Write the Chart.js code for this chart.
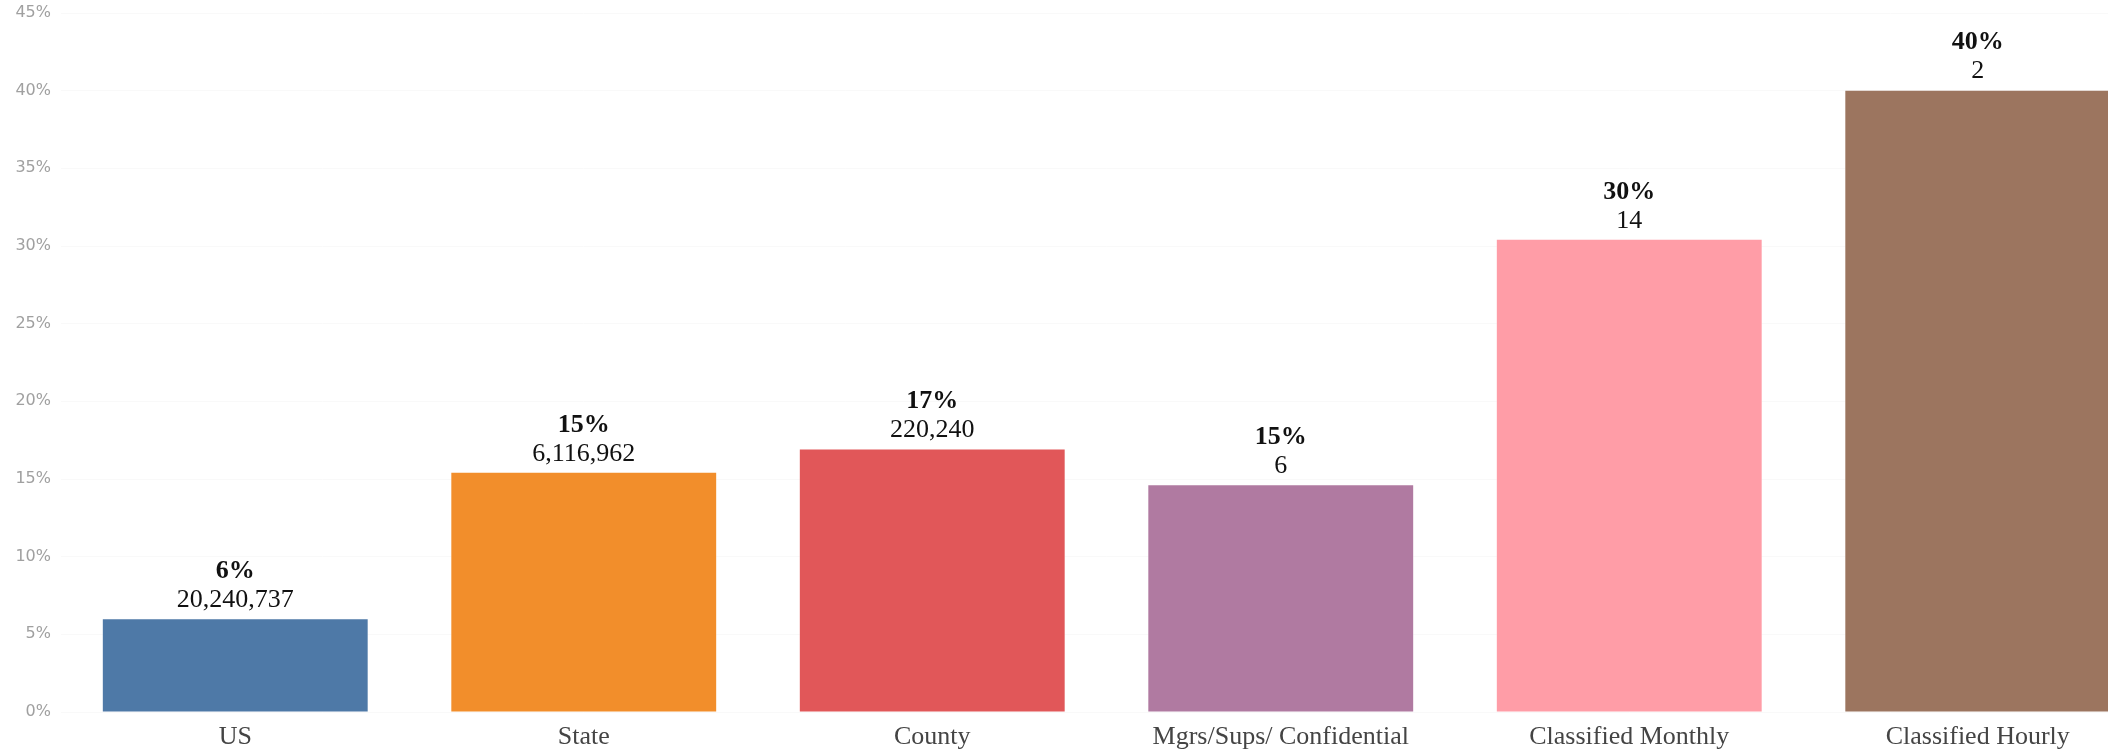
<!DOCTYPE html>
<html>
<head>
<meta charset="utf-8">
<script src="https://cdn.jsdelivr.net/npm/chart.js@4"></script>
<style>
  html, body { margin: 0; padding: 0; background: #fff; overflow: hidden; }
  #wrap { position: relative; width: 2152px; height: 752px; }
</style>
</head>
<body>
<div id="wrap"><canvas id="myChart"></canvas></div>
<script>
const categories = ['US', 'State', 'County', 'Mgrs/Sups/ Confidential', 'Classified Monthly', 'Classified Hourly'];
const percents = [5.97, 15.4, 16.9, 14.6, 30.4, 40.0];
const counts = [20240737, 6116962, 220240, 6, 14, 2];
const yTicks = [0, 5, 10, 15, 20, 25, 30, 35, 40, 45];

const colors = [
    '#4e79a7',
    '#f28e2b',
    '#e15759',
    '#b07aa1',
    '#ff9da7',
    '#9c755f'
];

// draws the two-line label (bold percent, plain count) above each bar
const barLabels = {
    id: 'barLabels',
    afterDatasetsDraw(chart) {
        const ctx = chart.ctx;
        const meta = chart.getDatasetMeta(0);
        ctx.save();
        ctx.textAlign = 'center';
        ctx.textBaseline = 'middle';
        ctx.fillStyle = '#111';
        meta.data.forEach((bar, i) => {
            ctx.font = 'bold 26px "Liberation Serif", "Times New Roman", serif';
            ctx.fillText(Math.round(percents[i]) + '%', bar.x, bar.y - 48);
            ctx.font = '26px "Liberation Serif", "Times New Roman", serif';
            ctx.fillText(counts[i].toLocaleString('en-US'), bar.x, bar.y - 19);
        });
        ctx.restore();
    }
};

const ctx = document.getElementById('myChart').getContext('2d');
const myChart = new Chart(ctx, {
    type: 'bar',
    data: {
        labels: categories,
        datasets: [{
            data: percents,
            backgroundColor: colors,
            borderWidth: 0,
            categoryPercentage: 1,
            barPercentage: 0.76
        }]
    },
    options: {
        responsive: true,
        maintainAspectRatio: false,
        animation: false,
        layout: { padding: { top: 13, left: 0, right: 0, bottom: 0 } },
        plugins: {
            legend: { display: false },
            tooltip: { enabled: false }
        },
        scales: {
            x: {
                grid: { display: false },
                border: { display: false },
                ticks: {
                    color: '#444',
                    padding: 2,
                    maxRotation: 0,
                    autoSkip: false,
                    font: { family: '"Liberation Serif", "Times New Roman", serif', size: 26 }
                },
                afterFit: scale => { scale.height = 40; }
            },
            y: {
                min: 0,
                max: 45,
                afterBuildTicks: scale => { scale.ticks = yTicks.map(v => ({ value: v })); },
                grid: { color: 'rgba(0,0,0,0.025)', drawTicks: false },
                border: { display: false },
                ticks: {
                    color: '#a0a0a0',
                    padding: 10,
                    font: { family: '"DejaVu Sans", sans-serif', size: 16 },
                    callback: v => v + '%'
                },
                afterFit: scale => {
                    scale.width = 61;
                    scale.paddingTop = 0;
                    scale.paddingBottom = 0;
                }
            }
        }
    },
    plugins: [barLabels]
});
</script>
</body>
</html>
